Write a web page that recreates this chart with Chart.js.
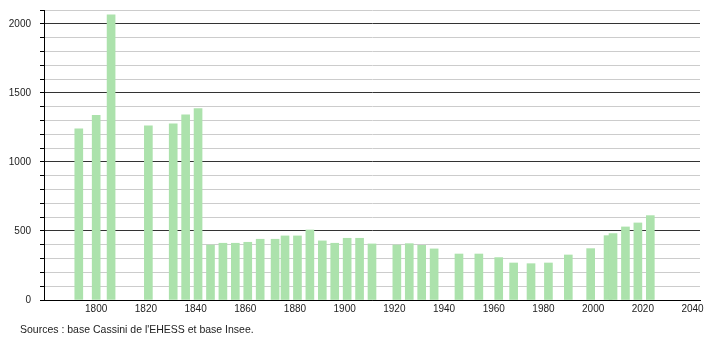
<!DOCTYPE html>
<html>
<head>
<meta charset="utf-8">
<script src="https://cdn.jsdelivr.net/npm/chart.js@4/dist/chart.umd.min.js"></script>
<style>
  html, body { margin: 0; padding: 0; background: #fff; }
  #wrap { position: relative; width: 710px; height: 340px; }
  #source {
    position: absolute; left: 20px; top: 323px;
    font: 10.5px "Liberation Sans", Arial, sans-serif; color: #222;
  }
</style>
</head>
<body>
<div id="wrap">
  <canvas id="pop" width="710" height="340"></canvas>
  <div id="source">Sources : base Cassini de l'EHESS et base Insee.</div>
</div>
<script>
// census years and population
const years = [1793, 1800, 1806, 1821, 1831, 1836, 1841, 1846, 1851, 1856,
  1861, 1866, 1872, 1876, 1881, 1886, 1891, 1896, 1901, 1906,
  1911, 1921, 1926, 1931, 1936, 1946, 1954, 1962, 1968, 1975,
  1982, 1990, 1999, 2006, 2008, 2013, 2018, 2023];
const population = [1240, 1338, 2065, 1261, 1275, 1340, 1386, 398, 411, 411,
  418, 440, 440, 464, 464, 507, 428, 411, 447, 447,
  406, 398, 408, 396, 370, 333, 333, 307, 268, 263,
  268, 326, 372, 466, 481, 529, 558, 611];
const yLabels = [0, 500, 1000, 1500, 2000];
const xLabels = [1800, 1820, 1840, 1860, 1880, 1900, 1920, 1940, 1960, 1980, 2000, 2020, 2040];

const points = years.map((y, i) => ({ x: y, y: population[i] }));
const font = { family: "'Liberation Sans', Arial, sans-serif", size: 10 };

new Chart(document.getElementById("pop").getContext("2d"), {
  type: "bar",
  data: {
    datasets: [{
      data: points,
      backgroundColor: "rgb(172, 226, 172)",
      borderWidth: 0,
      barThickness: 8
    }]
  },
  options: {
    responsive: false,
    animation: false,
    layout: { padding: { top: 10, right: 10, bottom: 20, left: 0 } },
    plugins: { legend: { display: false }, tooltip: { enabled: false } },
    scales: {
      x: {
        type: "linear",
        offset: false,
        min: 1779,
        max: 2043,
        grid: { display: false, drawTicks: false, offset: false },
        border: { color: "#000", width: 1 },
        ticks: {
          autoSkip: false,
          maxRotation: 0,
          padding: 3,
          color: "#222",
          font: font,
          callback: v => String(v)
        },
        afterBuildTicks: s => { s.ticks = xLabels.map(v => ({ value: v })); },
        afterFit: s => {
          s.height = 20;
          s.paddingLeft = 0;
          s.paddingRight = 0;
        }
      },
      y: {
        min: 0,
        max: 2100,
        grid: {
          color: c => (c.tick.value % 500 === 0 ? "#333" : "#ccc"),
          tickColor: "#000",
          tickLength: 4,
          lineWidth: 1
        },
        border: { color: "#000", width: 1 },
        ticks: {
          stepSize: 100,
          autoSkip: false,
          padding: 9,
          color: "#222",
          font: font,
          callback: v => yLabels.includes(v) ? String(v) : ""
        },
        afterFit: s => {
          s.width = 44;
          s.paddingTop = 0;
          s.paddingBottom = 0;
        }
      }
    }
  }
});
</script>
</body>
</html>
